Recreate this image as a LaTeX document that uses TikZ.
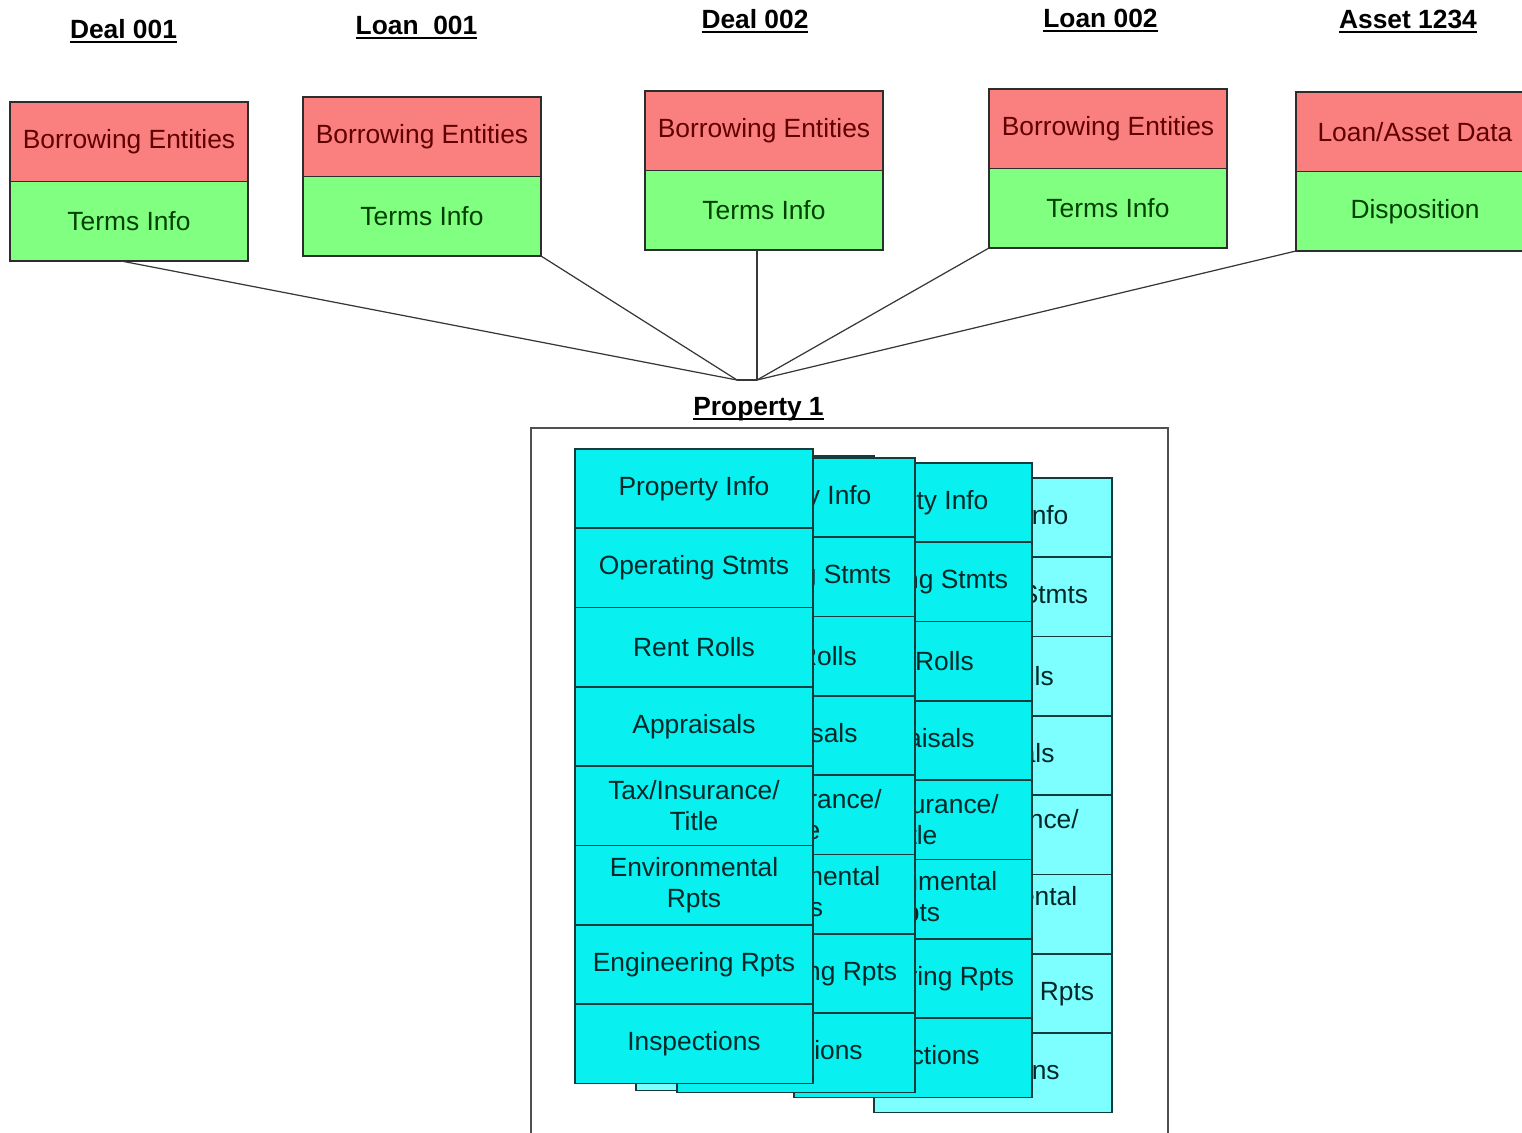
\documentclass[tikz,border=0pt]{standalone}
\usepackage{fontspec}
\setmainfont{Liberation Sans}

\definecolor{redfill}{RGB}{250,128,128}
\definecolor{redtext}{RGB}{96,0,0}
\definecolor{greenfill}{RGB}{128,255,128}
\definecolor{greentext}{RGB}{0,64,0}
\definecolor{cyanfill}{RGB}{8,240,240}
\definecolor{lightcyan}{RGB}{125,255,255}
\definecolor{cardtext}{RGB}{0,40,40}
\definecolor{cardline}{RGB}{20,60,60}
\definecolor{boxline}{RGB}{45,45,45}
\definecolor{linkgray}{RGB}{55,55,55}
\definecolor{framegray}{RGB}{80,80,80}

% bold title with a heavy underline
\newcommand{\ulbf}[1]{\setbox0=\hbox{#1}\rlap{\rule[-2.6pt]{\wd0}{1.1pt}}\box0}

% one property card: prefix, left x, top y, row style
\newcommand{\propcard}[4]{%
  \foreach \t [count=\i] in {Property Info, Operating Stmts, Rent Rolls, Appraisals,
      {Tax/Insurance/\\Title}, {Environmental\\Rpts}, Engineering Rpts, Inspections}{
    \node[#4] (#1-\i) at (#2, {#3+(\i-1)*79.3}) {\t};
  }%
}

\begin{document}
\begin{tikzpicture}[x=0.02cm,y=-0.02cm,
  every node/.style={font=\fontsize{15}{17.5}\selectfont},
  topbox/.style={draw=boxline, line width=0.8pt, minimum width=4.76cm,
    minimum height=1.59cm, inner sep=0pt, outer sep=0pt, anchor=north west},
  redbox/.style={topbox, fill=redfill, text=redtext},
  greenbox/.style={topbox, fill=greenfill, text=greentext},
  cardrow/.style={draw=cardline, line width=1pt, fill=cyanfill, text=cardtext,
    minimum width=4.76cm, minimum height=1.586cm, inner sep=0pt, outer sep=0pt,
    align=center, anchor=north west},
  backrow/.style={cardrow, fill=lightcyan},
  title/.style={font=\fontsize{15}{17.5}\selectfont\bfseries, inner sep=0pt, anchor=base},
  link/.style={draw=linkgray, line width=0.7pt},
  frame/.style={draw=framegray, line width=1pt}
]
\useasboundingbox (0,0) rectangle (1522,1133);
\clip (0,0) rectangle (1522,1133);

% headings
\node[title] (t-d1) at (123.5,38) {\ulbf{Deal 001}};
\node[title] (t-l1) at (416.5,34.5) {\ulbf{Loan\ \ 001}};
\node[title] (t-d2) at (755,28) {\ulbf{Deal 002}};
\node[title] (t-l2) at (1100.5,27) {\ulbf{Loan 002}};
\node[title] (t-a1) at (1408,28) {\ulbf{Asset 1234}};
\node[title] (t-p1) at (758.5,415) {\ulbf{Property 1}};

% record boxes
\node[redbox] (d1r) at (10,102) {Borrowing Entities};
\node[greenbox] (d1g) at (d1r.south west) {Terms Info};
\node[redbox] (l1r) at (303,97) {Borrowing Entities};
\node[greenbox] (l1g) at (l1r.south west) {Terms Info};
\node[redbox] (d2r) at (645,91) {Borrowing Entities};
\node[greenbox] (d2g) at (d2r.south west) {Terms Info};
\node[redbox] (l2r) at (989,89) {Borrowing Entities};
\node[greenbox] (l2g) at (l2r.south west) {Terms Info};
\node[redbox] (a1r) at (1296,92) {Loan/Asset Data};
\node[greenbox] (a1g) at (a1r.south west) {Disposition};

% connectors to the property
\coordinate (hubL) at (737,380);
\coordinate (hubR) at (757,380);
\draw[link] ([xshift=-0.16cm]d1g.south) -- (hubL);
\draw[link] (l1g.south east) -- (hubL);
\draw[link] (hubL) -- (hubR);
\draw[link] (d2g.south -| hubR) -- (hubR);
\draw[link] (l2g.south west) -- (hubR);
\draw[link] (a1g.south west) -- (hubR);

% property frame
\draw[frame] (531,428) rectangle (1168,1160);

% stacked property cards, back to front
\propcard{ce}{636}{456}{backrow}
\propcard{cd}{874}{478}{backrow}
\propcard{cc}{794}{463}{cardrow}
\propcard{cb}{677}{458}{cardrow}
\propcard{ca}{575}{449}{cardrow}

\end{tikzpicture}
\end{document}
